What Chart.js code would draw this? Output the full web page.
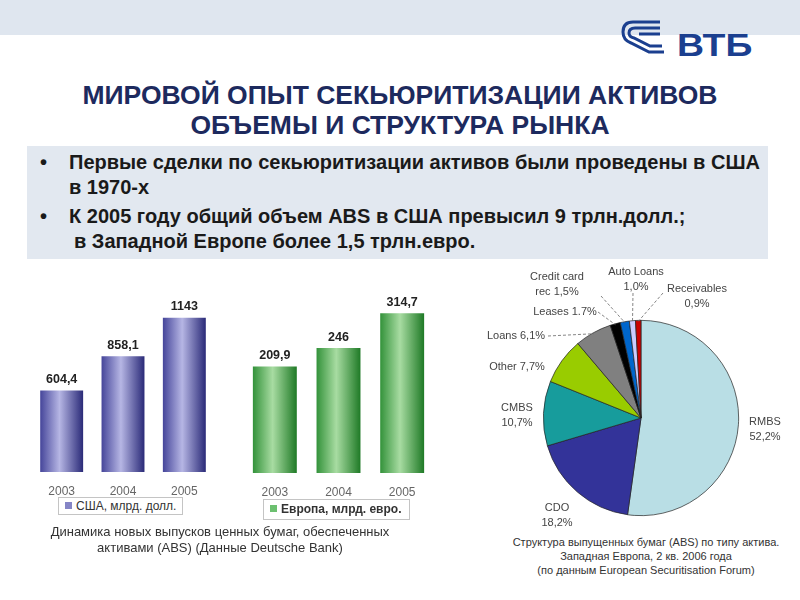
<!DOCTYPE html>
<html>
<head>
<meta charset="utf-8">
<script src="https://cdn.jsdelivr.net/npm/chart.js@4.4.0/dist/chart.umd.min.js"></script>
<style>
  body { margin: 0; width: 800px; height: 600px; overflow: hidden; background: #fff; position: relative;
         font-family: "Liberation Sans", Arial, sans-serif; }
  .abs { position: absolute; }
  #band { left: 0; top: 0; width: 800px; height: 35px; background: #dfe6ef; }
  #vtb { left: 677px; top: 29px; font: bold 32px/32px "Liberation Sans", Arial, sans-serif; color: #1b3f8f;
         transform: scaleX(1.17); transform-origin: left top; }
  #title { left: 0; top: 80px; width: 800px; text-align: center; color: #1d2a5e;
           font: bold 26.5px/30px "Liberation Sans", Arial, sans-serif; }
  #box { left: 27px; top: 146px; width: 741px; height: 113px; background: #e2e8f0; }
  .line { position: absolute; left: 69px; white-space: nowrap; color: #1a1a1a;
          font: bold 20px/25px "Liberation Sans", Arial, sans-serif; }
  .dot { position: absolute; left: 40px; color: #1a1a1a; font: bold 20px/25px "Liberation Sans", Arial, sans-serif; }
  .legend { position: absolute; background: #fff; border: 1px solid #c4c4c4; color: #333;
            font-size: 12px; line-height: 16px; padding-left: 6px; box-sizing: border-box; white-space: nowrap; }
  .legend i { display: inline-block; width: 7px; height: 7px; margin-right: 4px; vertical-align: 1px; }
  .cap { position: absolute; text-align: center; color: #333; white-space: nowrap; }
  canvas { position: absolute; }
</style>
</head>
<body>
<div id="band" class="abs"></div>
<svg class="abs" style="left:618px;top:17px" width="50" height="42" viewBox="0 0 50 42">
  <g fill="none" stroke="#1b3f8f" stroke-width="3">
    <path d="M42 5 H15 Q5 5 5 15 Q5 23 13 26 L31 35 H46"/>
    <path d="M42 11 H17 Q11 11 11 16 Q11 20 16 21 L32 29 H44"/>
    <path d="M42 17 H21"/>
  </g>
</svg>
<div id="vtb" class="abs">ВТБ</div>
<div id="title" class="abs">МИРОВОЙ ОПЫТ СЕКЬЮРИТИЗАЦИИ АКТИВОВ<br>ОБЪЕМЫ И СТРУКТУРА РЫНКА</div>
<div id="box" class="abs"></div>
<div class="dot" style="top:150px">•</div>
<div class="line" style="top:150px">Первые сделки по секьюритизации активов были проведены в США</div>
<div class="line" style="top:175px">в 1970-х</div>
<div class="dot" style="top:204px">•</div>
<div class="line" style="top:204px">К 2005 году общий объем ABS в США превысил 9 трлн.долл.;</div>
<div class="line" style="top:229px;left:74px">в Западной Европе более 1,5 трлн.евро.</div>

<canvas id="usaChart" width="230" height="218" style="left:0;top:280px"></canvas>
<canvas id="euChart" width="205" height="220" style="left:235px;top:278px"></canvas>
<canvas id="pieChart" width="330" height="275" style="left:470px;top:260px"></canvas>

<div class="legend" style="left:58px;top:497px;width:125px;height:18px"><i style="background:#8585c6"></i>США, млрд. долл.</div>
<div class="legend" style="left:263px;top:499px;width:147px;height:21px;font-weight:bold;line-height:19px"><i style="background:#6cc070"></i>Европа, млрд. евро.</div>

<div class="cap" style="left:20px;top:524px;width:400px;font-size:13px;line-height:16px">Динамика новых выпусков ценных бумаг, обеспеченных<br>активами (ABS) (Данные Deutsche Bank)</div>
<div class="cap" style="left:496px;top:535px;width:300px;font-size:11px;line-height:14px">Структура выпущенных бумаг (ABS) по типу актива.<br>Западная Европа, 2 кв. 2006 года<br>(по данным European Securitisation Forum)</div>

<script>
// data
var years = ['2003', '2004', '2005'];
var usaValues = [604.4, 858.1, 1143];
var europeValues = [209.9, 246, 314.7];
var pieCategories = ['RMBS', 'CDO', 'CMBS', 'Other', 'Loans', 'Leases', 'Credit card rec', 'Auto Loans', 'Receivables'];
var pieValues = [52.2, 18.2, 10.7, 7.7, 6.1, 1.7, 1.5, 1.0, 0.9];
var pieTexts = [['RMBS', '52,2%'], ['CDO', '18,2%'], ['CMBS', '10,7%'], ['Other 7,7%'], ['Loans 6,1%'],
                ['Leases 1.7%'], ['Credit card', 'rec 1,5%'], ['Auto Loans', '1,0%'], ['Receivables', '0,9%']];

var pieColors = ['#b9dee5', '#333399', '#179c9c', '#99cc00', '#808080', '#000000', '#0066cc', '#ccccff', '#cc0000'];

// vertical shading of each bar
function barGradient(edgeL, mid, edgeR, pct) {
    return function (c) {
        var chart = c.chart, xs = chart.scales.x;
        if (!chart.chartArea || !xs) return mid;
        var cx = xs.getPixelForValue(c.dataIndex);
        var w = xs.width / years.length * pct / 2;
        var g = chart.ctx.createLinearGradient(cx - w, 0, cx + w, 0);
        g.addColorStop(0, edgeL);
        g.addColorStop(0.45, mid);
        g.addColorStop(1, edgeR);
        return g;
    };
}

var valueLabels = {
    id: 'valueLabels',
    afterDatasetsDraw: function (chart) {
        var ctx = chart.ctx;
        var meta = chart.getDatasetMeta(0);
        var vals = chart.data.datasets[0].data;
        ctx.save();
        ctx.font = 'bold 12.5px "Liberation Sans", Arial, sans-serif';
        ctx.fillStyle = '#222';
        ctx.textAlign = 'center';
        ctx.textBaseline = 'middle';
        meta.data.forEach(function (el, i) {
            ctx.fillText(String(vals[i]).replace('.', ','), el.x, el.y - 11);
        });
        ctx.restore();
    }
};

function barOptions(maxY, pad, axisH) {
    return {
        responsive: false,
        animation: false,
        devicePixelRatio: 1,
        layout: { padding: pad },
        plugins: { legend: { display: false }, tooltip: { enabled: false } },
        scales: {
            x: {
                grid: { display: false, drawTicks: false },
                border: { display: false },
                ticks: { color: '#666', padding: 12, font: { size: 12, family: '"Liberation Sans", Arial, sans-serif' } },
                afterFit: function (scale) { scale.height = axisH; }
            },
            y: { display: false, min: 0, max: maxY }
        }
    };
}

new Chart(document.getElementById('usaChart'), {
    type: 'bar',
    data: {
        labels: years,
        datasets: [{
            label: 'США, млрд. долл.',
            data: usaValues,
            backgroundColor: barGradient('#45459a', '#b6b6e4', '#2a2a78', 0.7),
            barPercentage: 0.7,
            categoryPercentage: 1
        }]
    },
    options: barOptions(1400, { left: 31, right: 15, top: 3, bottom: 0 }, 26),
    plugins: [valueLabels]
});

new Chart(document.getElementById('euChart'), {
    type: 'bar',
    data: {
        labels: years,
        datasets: [{
            label: 'Европа, млрд. евро.',
            data: europeValues,
            backgroundColor: barGradient('#33923a', '#a8dca2', '#1f7a26', 0.69),
            barPercentage: 0.69,
            categoryPercentage: 1
        }]
    },
    options: barOptions(380, { left: 8, right: 6, top: 2, bottom: 0 }, 25),
    plugins: [valueLabels]
});

// label placement around the pie (offsets from centre)
var labelPos = [[124, 11], [-84, 97], [-124, -3], [-124, -51], [-125, -82], [-76, -106], [-84, -134], [-5, -139], [56, -122]];
var leaderFrom = [null, null, null, null, [-93, -82], [-43, -106], [-40, -122], [-8, -125], [22, -125]];

var pieLabels = {
    id: 'pieLabels',
    afterDraw: function (chart) {
        var ctx = chart.ctx;
        var arcs = chart.getDatasetMeta(0).data;
        ctx.save();
        arcs.forEach(function (arc, i) {
            var cx = arc.x, cy = arc.y;
            if (leaderFrom[i]) {
                var mid = (arc.startAngle + arc.endAngle) / 2;
                var r = arc.outerRadius - 1;
                ctx.beginPath();
                ctx.setLineDash([3, 2]);
                ctx.strokeStyle = '#666';
                ctx.lineWidth = 0.8;
                ctx.moveTo(cx + leaderFrom[i][0], cy + leaderFrom[i][1]);
                ctx.lineTo(cx + Math.cos(mid) * r, cy + Math.sin(mid) * r);
                ctx.stroke();
            }
            var lines = pieTexts[i];
            ctx.setLineDash([]);
            ctx.font = '11px "Liberation Sans", Arial, sans-serif';
            ctx.fillStyle = '#444';
            ctx.textAlign = 'center';
            ctx.textBaseline = 'middle';
            var y0 = cy + labelPos[i][1] - (lines.length - 1) * 7.5;
            lines.forEach(function (t, k) {
                ctx.fillText(t, cx + labelPos[i][0], y0 + k * 15);
            });
        });
        ctx.restore();
    }
};

new Chart(document.getElementById('pieChart'), {
    type: 'pie',
    data: {
        labels: pieCategories,
        datasets: [{
            data: pieValues,
            backgroundColor: pieColors,
            borderColor: '#222',
            borderWidth: 0.7
        }]
    },
    options: {
        responsive: false,
        animation: false,
        devicePixelRatio: 1,
        layout: { padding: { left: 73, right: 61, top: 60, bottom: 19 } },
        plugins: { legend: { display: false }, tooltip: { enabled: false } }
    },
    plugins: [pieLabels]
});
</script>
</body>
</html>
